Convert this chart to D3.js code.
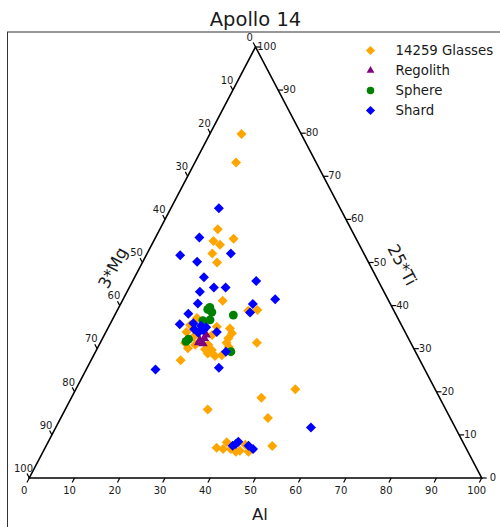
<!DOCTYPE html>
<html>
<head>
<meta charset="utf-8">
<script src="https://cdn.jsdelivr.net/npm/d3@7"></script>
<style>
  body { margin: 0; background: #fff; }
  text { font-family: "DejaVu Sans", sans-serif; fill: #1a1a1a; }
</style>
</head>
<body>
<div id="chart"></div>
<script>
/**
 * CONSTANTS AND DATA
 * points are [Al, 25*Ti]; 3*Mg is whatever is left of 100
 * */
const width = 500,
  height = 527;

const seriesNames = ["14259 Glasses", "Regolith", "Sphere", "Shard"];
const seriesColors = ["#ffa500", "#800080", "#008000", "#0000ff"];
const tickValues = [0, 10, 20, 30, 40, 50, 60, 70, 80, 90, 100];

const glasses = [
  [7.0, 79.8], [9.1, 73.2], [12.8, 57.7], [13.2, 55.0], [15.1, 54.1], [17.4, 55.5],
  [14.4, 52.1], [16.5, 50.0], [22.2, 41.1], [29.0, 38.8], [30.9, 39.0], [34.6, 31.4],
  [48.5, 20.6], [42.0, 18.6], [45.8, 13.9], [50.0, 7.4], [31.5, 15.9], [19.8, 27.3],
  [18.5, 37.1], [17.8, 35.5], [17.8, 33.9], [19.9, 32.8], [20.0, 30.1], [18.8, 31.3],
  [24.1, 30.9], [25.5, 29.7], [23.9, 29.9], [26.9, 28.3], [25.0, 28.9], [27.0, 34.7],
  [28.0, 33.6], [27.8, 32.4], [27.9, 31.4], [28.9, 30.4], [23.9, 35.1], [23.8, 33.2],
  [20.9, 36.0], [21.2, 30.9], [28.3, 28.5],
  [37.9, 7.0], [39.5, 6.7], [39.5, 8.3], [43.4, 6.3], [43.9, 7.7], [45.4, 6.1],
  [41.2, 6.7], [42.6, 6.1]
];
const regolith = [
  [21.7, 32.0], [22.5, 32.4], [21.7, 31.4], [22.8, 31.2], [22.5, 33.2]
];
const sphere = [
  [19.9, 39.1], [20.1, 39.6], [26.2, 37.8], [20.1, 36.5], [21.6, 36.7],
  [19.1, 32.2], [18.8, 31.7], [29.9, 29.3], [21.1, 38.5]
];
const shard = [
  [10.6, 62.6], [9.7, 55.8], [7.5, 51.7], [12.0, 50.2], [18.5, 52.1], [15.3, 46.6],
  [16.1, 43.2], [18.7, 44.2], [21.3, 44.2], [17.0, 40.5], [16.1, 38.1], [15.4, 35.7],
  [27.3, 45.7], [33.6, 41.5], [29.2, 40.4], [29.6, 38.4], [29.1, 25.6], [15.3, 25.2],
  [56.4, 11.7], [28.8, 29.3], [24.5, 33.9], [18.3, 35.9], [20.3, 35.3], [21.3, 34.3],
  [20.5, 33.7], [19.2, 34.5], [21.6, 35.0],
  [41.2, 7.5], [42.0, 8.4], [44.7, 7.5], [46.1, 6.7], [41.7, 7.9]
];

// triangle in pixels: base 0..100 on x, Ti 0..100 straight up to the apex
const xScale = d3.scaleLinear().domain([0, 100]).range([29.3, 481.7]);
const yScale = d3.scaleLinear().domain([0, 100]).range([478, 47]);
const proj = (al, ti) => [xScale(al + ti / 2), yScale(ti)];

const svg = d3.select("#chart")
  .append("svg")
  .attr("width", width)
  .attr("height", height);

// axes frame (only the left and top show, the rest falls off the figure)
svg.append("rect")
  .attr("x", 7.5).attr("y", 32)
  .attr("width", 700).attr("height", 700)
  .attr("fill", "none")
  .attr("stroke", "#333")
  .attr("stroke-width", 1);

svg.append("text")
  .attr("x", 255.5).attr("y", 26)
  .attr("text-anchor", "middle")
  .style("font-size", "19.5px")
  .text("Apollo 14");

// boundary
const corners = [proj(0, 0), proj(100, 0), proj(0, 100)];
svg.append("path")
  .attr("d", d3.line()(corners) + "Z")
  .attr("fill", "none")
  .attr("stroke", "#000")
  .attr("stroke-width", 1.6)
  .attr("stroke-linejoin", "miter");

// ticks: bottom (Al), right (25*Ti), left (3*Mg)
const axes = [
  { pos: v => proj(v, 0), dir: [-0.466, 0.885], lab: [-5, 12.5] },
  { pos: v => proj(100 - v, v), dir: [1, 0], lab: [11.3, -0.5] },
  { pos: v => proj(0, 100 - v), dir: [-0.464, -0.886], lab: [-5.8, -9.8] }
];
axes.forEach(ax => {
  const g = svg.append("g");
  g.selectAll("line")
    .data(tickValues)
    .join("line")
    .attr("x1", d => ax.pos(d)[0])
    .attr("y1", d => ax.pos(d)[1])
    .attr("x2", d => ax.pos(d)[0] + ax.dir[0] * 5)
    .attr("y2", d => ax.pos(d)[1] + ax.dir[1] * 5)
    .attr("stroke", "#000")
    .attr("stroke-width", 1.2);
  g.selectAll("text")
    .data(tickValues)
    .join("text")
    .attr("x", d => ax.pos(d)[0] + ax.lab[0])
    .attr("y", d => ax.pos(d)[1] + ax.lab[1])
    .attr("text-anchor", "middle")
    .attr("dominant-baseline", "central")
    .style("font-size", "10px")
    .text(d => d);
});

// axis titles
svg.append("text")
  .attr("x", 260).attr("y", 514)
  .attr("text-anchor", "middle")
  .attr("dominant-baseline", "central")
  .style("font-size", "16.5px")
  .text("Al");
svg.append("text")
  .attr("transform", "translate(113,268) rotate(-62.3)")
  .attr("text-anchor", "middle")
  .attr("dominant-baseline", "central")
  .style("font-size", "16.5px")
  .text("3*Mg");
svg.append("text")
  .attr("transform", "translate(402,265) rotate(62.3)")
  .attr("text-anchor", "middle")
  .attr("dominant-baseline", "central")
  .style("font-size", "16.5px")
  .text("25*Ti");

// markers
const diamond = d3.symbol().type(d3.symbolSquare).size(50)();
const triangle = d3.symbol().type(d3.symbolTriangle).size(38)();
const circle = d3.symbol().type(d3.symbolCircle).size(62)();
const shapes = [diamond, triangle, circle, diamond];
const rot = [45, 0, 0, 45];

[glasses, regolith, sphere, shard].forEach((pts, i) => {
  svg.append("g")
    .selectAll("path")
    .data(pts)
    .join("path")
    .attr("d", shapes[i])
    .attr("transform", d => {
      const [x, y] = proj(d[0], d[1]);
      return `translate(${x},${y}) rotate(${rot[i]})`;
    })
    .attr("fill", seriesColors[i]);
});

// legend
const legendSizes = [42, 26, 44, 42];
const leg = svg.append("g").attr("transform", "translate(370.5,50.5)");
seriesNames.forEach((name, i) => {
  const row = leg.append("g").attr("transform", `translate(0,${i * 20})`);
  const t = [d3.symbolSquare, d3.symbolTriangle, d3.symbolCircle, d3.symbolSquare][i];
  row.append("path")
    .attr("d", d3.symbol().type(t).size(legendSizes[i])())
    .attr("transform", `rotate(${rot[i]})`)
    .attr("fill", seriesColors[i]);
  row.append("text")
    .attr("x", 25)
    .attr("dominant-baseline", "central")
    .style("font-size", "13.3px")
    .text(name);
});
</script>
</body>
</html>
